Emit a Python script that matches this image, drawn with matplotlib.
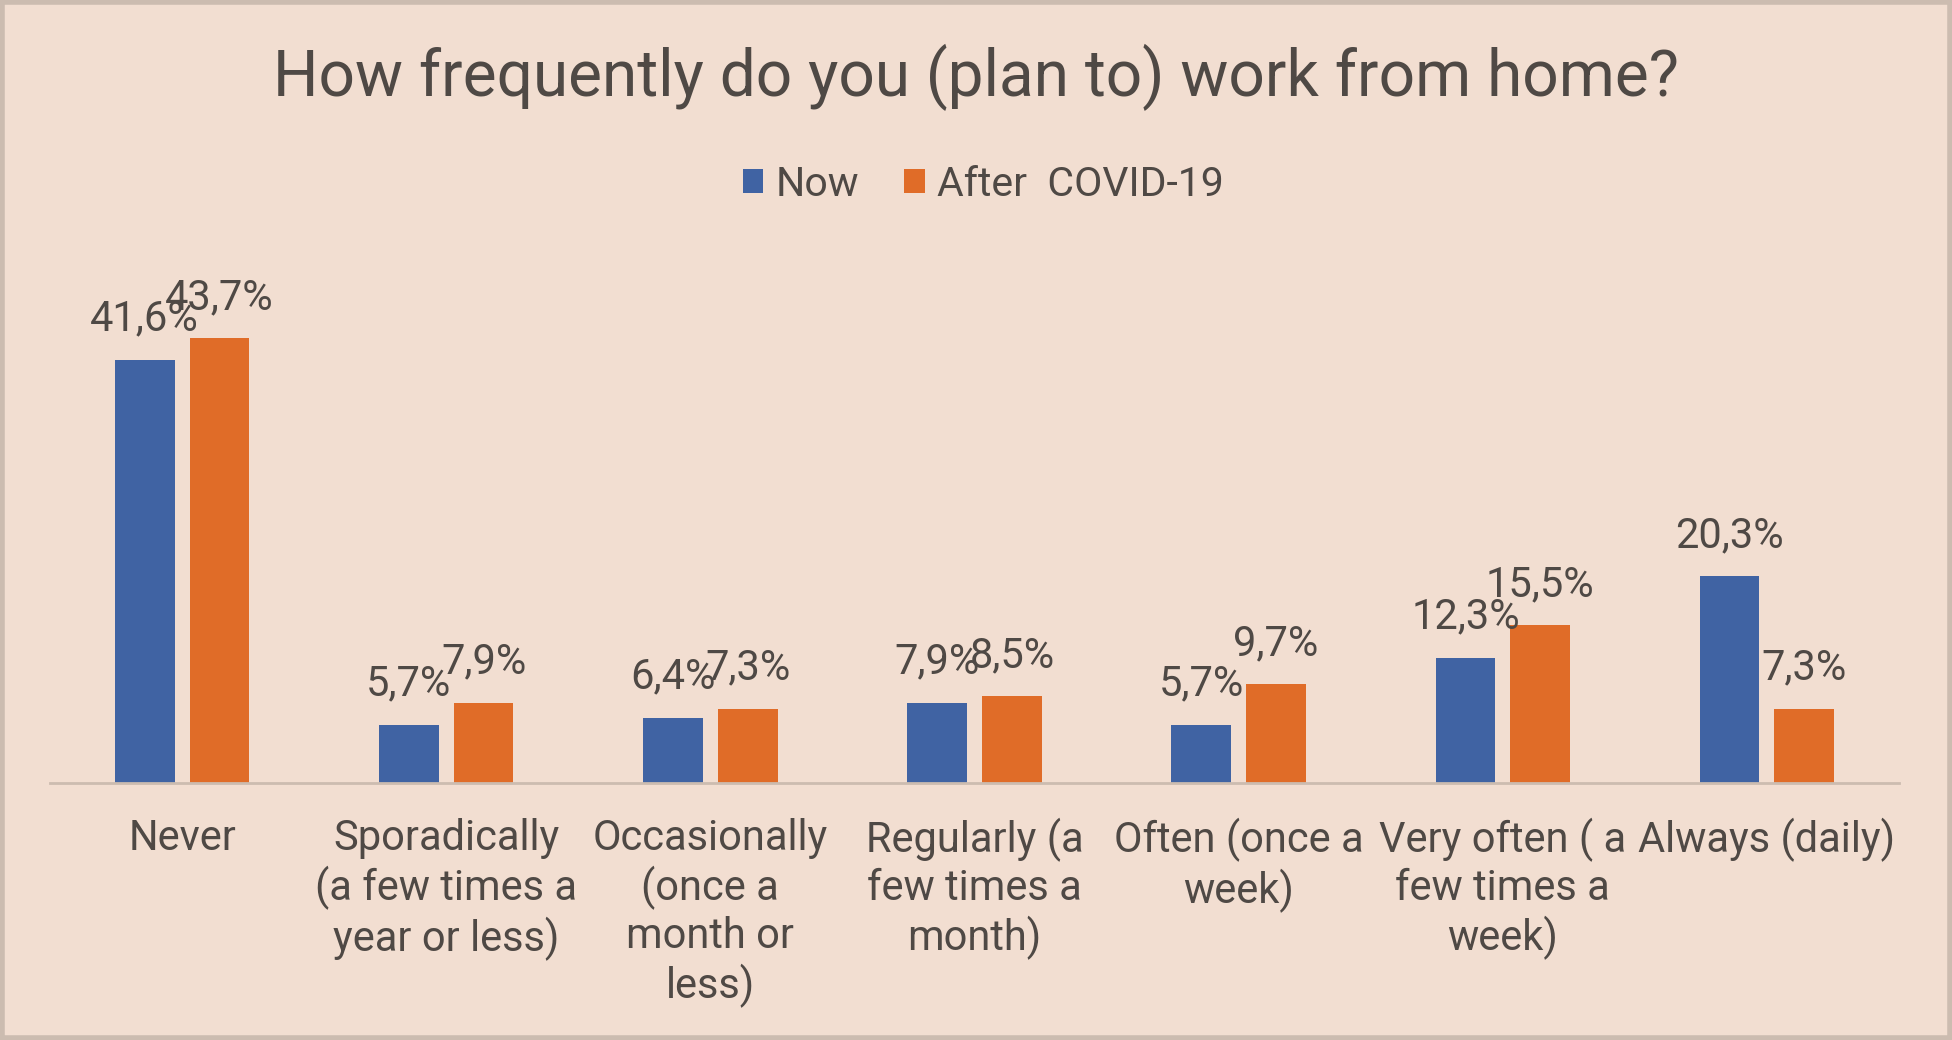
"""Grouped bar chart: how frequently people (plan to) work from home."""

import matplotlib

matplotlib.use("Agg")

import matplotlib.pyplot as plt
import numpy as np
from matplotlib.patches import Patch, Rectangle


categories = [
    "Never",
    "Sporadically\n(a few times a\nyear or less)",
    "Occasionally\n(once a\nmonth or\nless)",
    "Regularly (a\nfew times a\nmonth)",
    "Often (once a\nweek)",
    "Very often ( a\nfew times a\nweek)",
    "Always (daily)",
]
now_values = [41.6, 5.7, 6.4, 7.9, 5.7, 12.3, 20.3]
after_values = [43.7, 7.9, 7.3, 8.5, 9.7, 15.5, 7.3]
series_names = ["Now", "After  COVID-19"]

BG = "#F2DED1"
BORDER = "#CCBCB0"
TEXT = "#4F4945"
BLUE = "#4063A3"
ORANGE = "#E06C28"

plt.rcParams["font.family"] = ["Roboto", "DejaVu Sans"]


def pct(v):
    return "{:.1f}%".format(v).replace(".", ",")


def main():
    fig = plt.figure(figsize=(19.52, 10.40), dpi=100, facecolor=BG)
    ax = fig.add_axes([50 / 1952, 0.2471, (1899 - 50) / 1952, 0.4894])
    ax.set_facecolor(BG)

    x = np.arange(len(categories))
    width = 0.226
    offset = 0.1415
    ax.bar(x - offset, now_values, width, color=BLUE, zorder=2)
    ax.bar(x + offset, after_values, width, color=ORANGE, zorder=2)

    # data labels sit centred above each bar, like the spreadsheet default
    for xi, v in zip(x, now_values):
        ax.annotate(pct(v), (xi - offset, v), xytext=(0, 21), textcoords="offset points",
                    ha="center", va="baseline", fontsize=30, color=TEXT)
    for xi, v in zip(x, after_values):
        ax.annotate(pct(v), (xi + offset, v), xytext=(0, 21), textcoords="offset points",
                    ha="center", va="baseline", fontsize=30, color=TEXT)

    ax.set_xlim(-0.5, len(categories) - 0.5)
    ax.set_ylim(0, 50)
    ax.set_yticks([])
    ax.set_xticks(x)
    ax.set_xticklabels(categories, fontsize=30, color=TEXT, linespacing=1.2)
    ax.tick_params(axis="x", length=0, pad=25)
    for side in ["top", "right", "left"]:
        ax.spines[side].set_visible(False)
    ax.spines["bottom"].set_color(BORDER)
    ax.spines["bottom"].set_linewidth(2)

    fig.text(0.5, 1 - 77 / 1040, "How frequently do you (plan to) work from home?",
             ha="center", va="center", fontsize=46, color=TEXT)

    handles = [Patch(facecolor=BLUE), Patch(facecolor=ORANGE)]
    fig.legend(handles, series_names, loc="center", bbox_to_anchor=(0.5037, 1 - 184 / 1040),
               ncol=2, frameon=False, fontsize=29.5, labelcolor=TEXT,
               handlelength=0.5, handleheight=0.5, handletextpad=0.3, columnspacing=1.1)

    fig.patches.append(Rectangle((0.001, 0.002), 0.998, 0.996, transform=fig.transFigure,
                                 fill=False, edgecolor=BORDER, linewidth=4))

    fig.savefig("out.png", dpi=100, facecolor=BG)
    plt.close(fig)


if __name__ == "__main__":
    main()
